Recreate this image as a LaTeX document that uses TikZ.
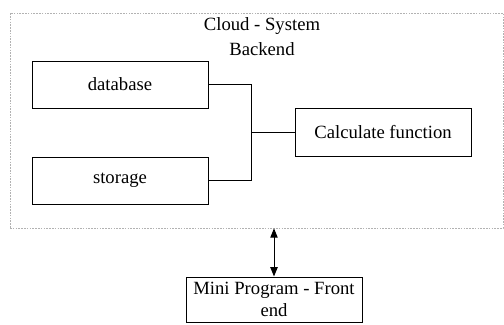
\documentclass[tikz,border=0pt]{standalone}
\usepackage{fontspec}
\setmainfont{Liberation Serif}
\usetikzlibrary{arrows.meta}
\tikzset{
  block/.style={draw, line width=0.75pt, minimum width=132pt, minimum height=35.25pt, inner sep=0pt, align=center, font=\fontsize{14}{17}\selectfont},
  link/.style={line width=0.6pt},
  both/.style={line width=0.75pt, {Triangle[length=7pt,width=5.5pt]}-{Triangle[length=7pt,width=5.5pt]}}
}

\begin{document}
\begin{tikzpicture}[x=0.75pt,y=0.75pt,yscale=-1,xscale=1]
\useasboundingbox (0,0) rectangle (504,325);

%Backend frame
\node (cloud) [draw=gray!60, dash pattern={on 1.2pt off 0.9pt}, line width=0.5pt, minimum width=369.75pt, minimum height=161.25pt, inner sep=0pt] at (256.5,120.5) {};
% Text Node
\node (title) [align=center, inner sep=0pt, font=\fontsize{14}{18.5}\selectfont] at (262,36.5) {Cloud - System\\Backend};

%Boxes
\node (db) [block] at (120,84.5) {database};
\node (st) [block] at (120,180.5) {storage};
\node (calc) [block, minimum height=36pt] at (383,132) {Calculate function};
\node (mini) [block, minimum height=33.75pt] at (274,299.5) {Mini Program - Front\\end};

%Junction
\coordinate (j) at (251,132);
\draw [link] (db.east) -| (j);
\draw [link] (st.east) -| (j);
\draw [link] (j) -- (calc.west);

%Front end link
\draw [both] (mini.north |- cloud.south) -- (mini.north);

\end{tikzpicture}
\end{document}
